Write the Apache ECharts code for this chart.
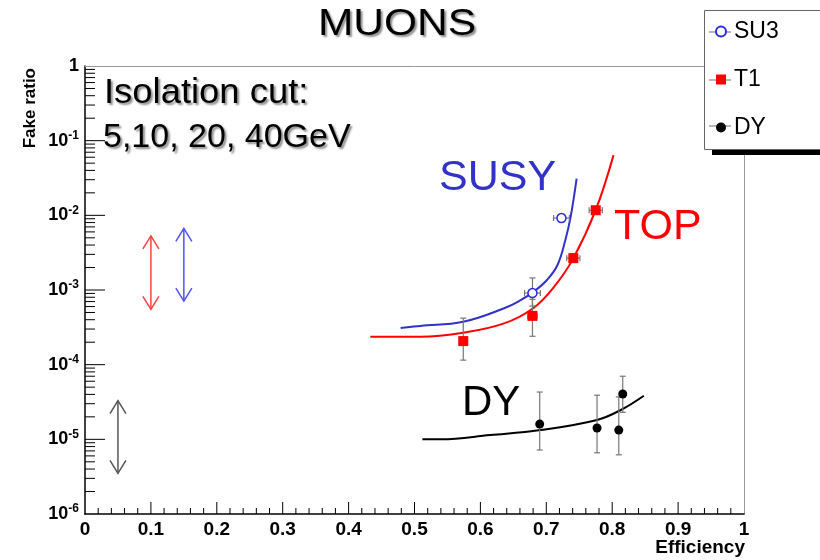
<!DOCTYPE html>
<html>
<head>
<meta charset="utf-8">
<script src="https://cdn.jsdelivr.net/npm/echarts@6/dist/echarts.min.js"></script>
<style>
html, body { margin: 0; padding: 0; background: #fff; }
#main { width: 820px; height: 560px; }
</style>
</head>
<body>
<div id="main"></div>
<script>
// SU3 measured points (x, y, x error, y low, y high)
const su3X = [0.679, 0.723];
const su3Y = [9.1e-4, 9.2e-3];
const su3XErr = [0.012, 0.012];
const su3YLow = [6.1e-4, 8.2e-3];
const su3YHigh = [1.45e-3, 1.03e-2];

// T1 measured points
const t1X = [0.574, 0.679, 0.741, 0.775];
const t1Y = [2.07e-4, 4.5e-4, 2.67e-3, 1.17e-2];
const t1XErr = [0.006, 0.007, 0.01, 0.01];
const t1YLow = [1.15e-4, 2.4e-4, 2.35e-3, 1.05e-2];
const t1YHigh = [4.2e-4, 7.5e-4, 3.05e-3, 1.3e-2];

// DY measured points
const dyX = [0.690, 0.777, 0.810, 0.816];
const dyY = [1.6e-5, 1.42e-5, 1.33e-5, 4.04e-5];
const dyXErr = [0, 0, 0, 0];
const dyYLow = [7.2e-6, 6.6e-6, 6.2e-6, 2.3e-5];
const dyYHigh = [4.3e-5, 3.9e-5, 3.7e-5, 7.0e-5];

// hand drawn curves
const susyCurve = [[0.479, 3.1e-4], [0.509, 3.3e-4], [0.574, 3.76e-4], [0.636, 5.69e-4], [0.661, 7.3e-4],
  [0.681, 9.5e-4], [0.701, 1.36e-3], [0.717, 2.16e-3], [0.729, 4.7e-3], [0.737, 9.6e-3], [0.746, 3.1e-2]];
const topCurve = [[0.433, 2.37e-4], [0.509, 2.37e-4], [0.574, 2.68e-4], [0.636, 3.57e-4], [0.680, 5.7e-4],
  [0.712, 1.11e-3], [0.741, 2.65e-3], [0.775, 1.18e-2], [0.802, 6.4e-2]];
const dyCurve = [[0.512, 1.0e-5], [0.540, 1.0e-5], [0.615, 1.14e-5], [0.691, 1.33e-5], [0.777, 1.82e-5],
  [0.813, 2.47e-5], [0.848, 3.84e-5]];

// double arrows
const arrowX = [0.1, 0.15, 0.05];
const arrowLow = [5.5e-4, 7.1e-4, 3.5e-6];
const arrowHigh = [5.3e-3, 6.7e-3, 3.3e-5];
const arrowColors = ['#ff4040', '#5050ff', '#555555'];

// tick positions (ROOT style)
const xMajorTicks = [0.1, 0.2, 0.3, 0.4, 0.5, 0.6, 0.7, 0.8, 0.9];
const xMinorTicks = [];
for (let i = 1; i < 50; i++) if (i % 5 !== 0) xMinorTicks.push(i / 50);
const yMajorTicks = [1e-5, 1e-4, 1e-3, 1e-2, 1e-1];
const yMinorTicks = [];
for (let k = -6; k < 0; k++) for (let m = 2; m <= 9; m++) yMinorTicks.push(m * Math.pow(10, k));

const FONT = 'Liberation Sans, Arial, Helvetica, sans-serif';

function toErrData(xs, ys, xe, lo, hi) {
    return xs.map((x, i) => [x, ys[i], xe[i], lo[i], hi[i]]);
}

// error bars with small end caps
function renderErrorBar(params, api) {
    const x = api.value(0), y = api.value(1), xe = api.value(2);
    const pLo = api.coord([x, api.value(3)]);
    const pHi = api.coord([x, api.value(4)]);
    const c = 3;
    const st = { stroke: '#777', lineWidth: 1.2 };
    const kids = [
        { type: 'line', shape: { x1: pLo[0], y1: pLo[1], x2: pHi[0], y2: pHi[1] }, style: st },
        { type: 'line', shape: { x1: pLo[0] - c, y1: pLo[1], x2: pLo[0] + c, y2: pLo[1] }, style: st },
        { type: 'line', shape: { x1: pHi[0] - c, y1: pHi[1], x2: pHi[0] + c, y2: pHi[1] }, style: st }
    ];
    if (xe > 0) {
        const pL = api.coord([x - xe, y]);
        const pR = api.coord([x + xe, y]);
        kids.push(
            { type: 'line', shape: { x1: pL[0], y1: pL[1], x2: pR[0], y2: pR[1] }, style: st },
            { type: 'line', shape: { x1: pL[0], y1: pL[1] - c, x2: pL[0], y2: pL[1] + c }, style: st },
            { type: 'line', shape: { x1: pR[0], y1: pR[1] - c, x2: pR[0], y2: pR[1] + c }, style: st }
        );
    }
    return { type: 'group', children: kids };
}

// double headed arrows with open heads
function renderArrow(params, api) {
    const x = api.value(0);
    const top = api.coord([x, api.value(2)]);
    const bot = api.coord([x, api.value(1)]);
    const col = arrowColors[api.value(3)];
    const w = 8, h = 13;
    const st = { stroke: col, lineWidth: 1.5, fill: null };
    return {
        type: 'group',
        children: [
            { type: 'line', shape: { x1: top[0], y1: top[1], x2: bot[0], y2: bot[1] }, style: st },
            { type: 'polyline', shape: { points: [[top[0] - w, top[1] + h], [top[0], top[1]], [top[0] + w, top[1] + h]] }, style: st },
            { type: 'polyline', shape: { points: [[bot[0] - w, bot[1] - h], [bot[0], bot[1]], [bot[0] + w, bot[1] - h]] }, style: st }
        ]
    };
}

// ticks drawn inside the frame: value 2 holds the tick length
function renderXTick(params, api) {
    const p = api.coord([api.value(0), 3e-6]);
    const base = api.coord([0, 3e-6]);
    const y0 = params.coordSys.y + params.coordSys.height;
    return {
        type: 'line',
        shape: { x1: p[0], y1: y0, x2: p[0], y2: y0 - api.value(2) },
        style: { stroke: '#000', lineWidth: 1 }
    };
}
function renderYTick(params, api) {
    const p = api.coord([0.5, api.value(1)]);
    const x0 = params.coordSys.x;
    return {
        type: 'line',
        shape: { x1: x0, y1: p[1], x2: x0 + api.value(2), y2: p[1] },
        style: { stroke: '#000', lineWidth: 1 }
    };
}

const chart = echarts.init(document.getElementById('main'));

const shadowText = {
    textShadowColor: 'rgba(0,0,0,0.45)',
    textShadowBlur: 2,
    textShadowOffsetX: 2,
    textShadowOffsetY: 2
};

chart.setOption({
    backgroundColor: '#fff',
    animation: false,
    grid: { left: 85, right: 76, top: 66, bottom: 46, show: false },
    xAxis: [{
        type: 'value',
        min: 0, max: 1, interval: 0.1,
        axisLine: { show: true, onZero: false, lineStyle: { color: '#000', width: 1.5 } },
        axisTick: { show: false },
        splitLine: { show: false },
        axisLabel: { color: '#000', fontSize: 19, fontWeight: 'bold', fontFamily: FONT, margin: 6 }
    }, {
        type: 'value', position: 'top', min: 0, max: 1,
        axisLine: { show: true, onZero: false, lineStyle: { color: '#999', width: 1 } },
        axisTick: { show: false }, axisLabel: { show: false }, splitLine: { show: false }
    }],
    yAxis: [{
        type: 'log', logBase: 10,
        min: 1e-6, max: 1,
        axisLine: { show: true, onZero: false, lineStyle: { color: '#000', width: 1.5 } },
        axisTick: { show: false },
        splitLine: { show: false },
        axisLabel: {
            margin: 6,
            formatter: function (v) {
                const k = Math.round(Math.log10(v));
                if (k === 0) return '{b|1}';
                return '{b|10}{s|' + k + '}';
            },
            rich: {
                b: { fontSize: 18, fontWeight: 'bold', color: '#000', fontFamily: FONT, lineHeight: 22 },
                s: { fontSize: 12, fontWeight: 'bold', color: '#000', fontFamily: FONT, verticalAlign: 'top', lineHeight: 12 }
            }
        }
    }, {
        type: 'value', position: 'right', min: 0, max: 1,
        axisLine: { show: true, onZero: false, lineStyle: { color: '#999', width: 1 } },
        axisTick: { show: false }, axisLabel: { show: false }, splitLine: { show: false }
    }],
    legend: {
        data: ['SU3', 'T1', 'DY'],
        orient: 'vertical',
        left: 715, top: 20,
        itemWidth: 10, itemHeight: 10, itemGap: 25,
        padding: 0,
        z: 10,
        textStyle: { fontSize: 23, color: '#000', fontFamily: FONT, lineHeight: 23, padding: [0, 0, 0, 3] }
    },
    graphic: [
        { type: 'rect', z: 5, shape: { x: 712, y: 150, width: 120, height: 5 }, style: { fill: '#000' } },
        { type: 'rect', z: 5, shape: { x: 704.5, y: 10.5, width: 130, height: 139 }, style: { fill: '#fff', stroke: '#666', lineWidth: 1 } },
        { type: 'line', z: 6, shape: { x1: 709, y1: 32, x2: 731, y2: 32 }, style: { stroke: '#888', lineWidth: 1.2 } },
        { type: 'line', z: 6, shape: { x1: 709, y1: 80, x2: 731, y2: 80 }, style: { stroke: '#888', lineWidth: 1.2 } },
        { type: 'line', z: 6, shape: { x1: 709, y1: 126, x2: 731, y2: 126 }, style: { stroke: '#888', lineWidth: 1.2 } },
        {
            type: 'text', x: 397, y: 25, scaleX: 1.18,
            style: Object.assign({ text: 'MUONS', fontSize: 36, fontFamily: FONT, fill: '#000', align: 'center', verticalAlign: 'middle' }, shadowText)
        },
        {
            type: 'text', x: 104, y: 93, scaleX: 1.04,
            style: Object.assign({ text: 'Isolation cut:', fontSize: 35, fontFamily: FONT, fill: '#000', align: 'left', verticalAlign: 'middle' }, shadowText)
        },
        {
            type: 'text', x: 103, y: 138,
            style: Object.assign({ text: '5,10, 20, 40GeV', fontSize: 34, fontFamily: FONT, fill: '#000', align: 'left', verticalAlign: 'middle' }, shadowText)
        },
        {
            type: 'text', x: 439, y: 178,
            style: { text: 'SUSY', fontSize: 43, fontFamily: FONT, fill: '#3232c8', align: 'left', verticalAlign: 'middle' }
        },
        {
            type: 'text', x: 614, y: 227,
            style: { text: 'TOP', fontSize: 43, fontFamily: FONT, fill: '#ff0000', align: 'left', verticalAlign: 'middle' }
        },
        {
            type: 'text', x: 462, y: 403,
            style: { text: 'DY', fontSize: 42, fontFamily: FONT, fill: '#000', align: 'left', verticalAlign: 'middle' }
        },
        {
            type: 'text', x: 745, y: 548,
            style: { text: 'Efficiency', fontSize: 19, fontWeight: 'bold', fontFamily: FONT, fill: '#000', align: 'right', verticalAlign: 'middle' }
        },
        {
            type: 'text', x: 30, y: 68, rotation: Math.PI / 2,
            style: { text: 'Fake ratio', fontSize: 17, fontWeight: 'bold', fontFamily: FONT, fill: '#000', align: 'right', verticalAlign: 'middle' }
        }
    ],
    series: [
        {
            type: 'custom', renderItem: renderXTick, silent: true, clip: false, z: 3,
            data: xMajorTicks.map(v => [v, 3e-6, 12]).concat(xMinorTicks.map(v => [v, 3e-6, 6]))
        },
        {
            type: 'custom', renderItem: renderYTick, silent: true, clip: false, z: 3,
            data: yMajorTicks.map(v => [0.5, v, 20]).concat(yMinorTicks.map(v => [0.5, v, 10]))
        },
        {
            name: 'susyFit', type: 'line', data: susyCurve, smooth: 0.4, showSymbol: false, silent: true,
            lineStyle: { color: '#3232c8', width: 2 }, z: 2
        },
        {
            name: 'topFit', type: 'line', data: topCurve, smooth: 0.4, showSymbol: false, silent: true,
            lineStyle: { color: '#ff0000', width: 2 }, z: 2
        },
        {
            name: 'dyFit', type: 'line', data: dyCurve, smooth: 0.4, showSymbol: false, silent: true,
            lineStyle: { color: '#000', width: 2 }, z: 2
        },
        {
            type: 'custom', renderItem: renderArrow, silent: true, z: 2,
            data: arrowX.map((x, i) => [x, arrowLow[i], arrowHigh[i], i])
        },
        { type: 'custom', renderItem: renderErrorBar, silent: true, z: 3, data: toErrData(su3X, su3Y, su3XErr, su3YLow, su3YHigh) },
        { type: 'custom', renderItem: renderErrorBar, silent: true, z: 3, data: toErrData(t1X, t1Y, t1XErr, t1YLow, t1YHigh) },
        { type: 'custom', renderItem: renderErrorBar, silent: true, z: 3, data: toErrData(dyX, dyY, dyXErr, dyYLow, dyYHigh) },
        {
            name: 'SU3', type: 'scatter', z: 4, symbol: 'circle', symbolSize: 9,
            itemStyle: { color: '#fff', borderColor: '#2a2ae0', borderWidth: 1.5, opacity: 1 },
            data: su3X.map((x, i) => [x, su3Y[i]])
        },
        {
            name: 'T1', type: 'scatter', z: 4, symbol: 'rect', symbolSize: 10,
            itemStyle: { color: '#ff0000', opacity: 1 },
            data: t1X.map((x, i) => [x, t1Y[i]])
        },
        {
            name: 'DY', type: 'scatter', z: 4, symbol: 'circle', symbolSize: 9,
            itemStyle: { color: '#000', opacity: 1 },
            data: dyX.map((x, i) => [x, dyY[i]])
        }
    ]
});
</script>
</body>
</html>
